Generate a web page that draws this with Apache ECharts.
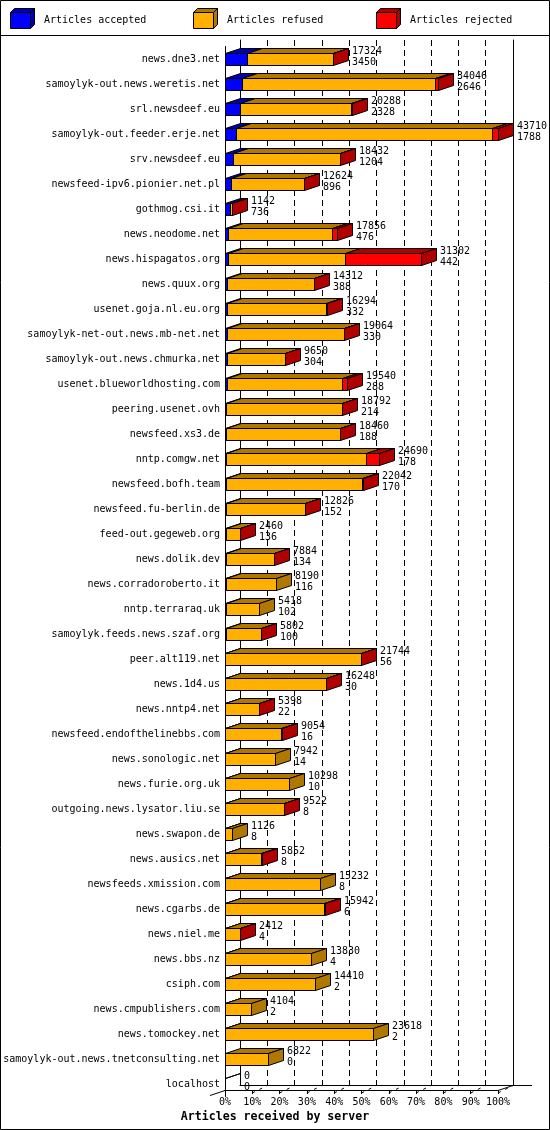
<!DOCTYPE html>
<html>
<head>
<meta charset="utf-8">
<script src="https://cdn.jsdelivr.net/npm/echarts@6/dist/echarts.min.js"></script>
<style>
  html, body { margin: 0; padding: 0; background: #fff; }
  #chart { width: 550px; height: 1130px; }
</style>
</head>
<body>
<div id="chart"></div>
<script>
// servers, top to bottom
const hosts = [
  'news.dne3.net', 'samoylyk-out.news.weretis.net', 'srl.newsdeef.eu', 'samoylyk-out.feeder.erje.net',
  'srv.newsdeef.eu', 'newsfeed-ipv6.pionier.net.pl', 'gothmog.csi.it', 'news.neodome.net',
  'news.hispagatos.org', 'news.quux.org', 'usenet.goja.nl.eu.org', 'samoylyk-net-out.news.mb-net.net',
  'samoylyk-out.news.chmurka.net', 'usenet.blueworldhosting.com', 'peering.usenet.ovh', 'newsfeed.xs3.de',
  'nntp.comgw.net', 'newsfeed.bofh.team', 'newsfeed.fu-berlin.de', 'feed-out.gegeweb.org',
  'news.dolik.dev', 'news.corradoroberto.it', 'nntp.terraraq.uk', 'samoylyk.feeds.news.szaf.org',
  'peer.alt119.net', 'news.1d4.us', 'news.nntp4.net', 'newsfeed.endofthelinebbs.com',
  'news.sonologic.net', 'news.furie.org.uk', 'outgoing.news.lysator.liu.se', 'news.swapon.de',
  'news.ausics.net', 'newsfeeds.xmission.com', 'news.cgarbs.de', 'news.niel.me',
  'news.bbs.nz', 'csiph.com', 'news.cmpublishers.com', 'news.tomockey.net',
  'samoylyk-out.news.tnetconsulting.net', 'localhost'
]

// total articles (upper label)
const totals = [
  17324, 34046, 20288, 43710, 18432, 12624, 1142, 17856, 31302, 14312, 16294, 19064,
  9650, 19540, 18792, 18460, 24690, 22042, 12826, 2460, 7884, 8190, 5418, 5802,
  21744, 16248, 5398, 9054, 7942, 10298, 9522, 1126, 5852, 15232, 15942, 2412,
  13830, 14410, 4104, 23618, 6822, 0
]

// accepted (lower label)
const accepted = [
  3450, 2646, 2328, 1788, 1204, 896, 736, 476, 442, 388, 332, 330,
  304, 288, 214, 188, 178, 170, 152, 136, 134, 116, 102, 100,
  56, 30, 22, 16, 14, 10, 8, 8, 8, 8, 6, 4,
  4, 2, 2, 2, 0, 0
]

// refused
const refused = [
  13814, 30950, 17880, 40972, 17168, 11678, 306, 16600, 18780, 13874, 15902, 18684,
  9306, 18522, 18538, 18232, 22382, 21832, 12644, 2294, 7720, 8074, 5316, 5682,
  21658, 16198, 5356, 9018, 7928, 10288, 9494, 1118, 5824, 15224, 15916, 2388,
  13826, 14408, 4102, 23616, 6822, 0
]

// rejected
const rejected = [
  60, 450, 80, 950, 60, 50, 100, 780, 12080, 50, 60, 50,
  40, 730, 40, 40, 2130, 40, 30, 30, 30, 0, 0, 20,
  30, 20, 20, 20, 0, 0, 20, 0, 20, 0, 20, 20,
  0, 0, 0, 0, 0, 0
]

const percentTicks = [0, 10, 20, 30, 40, 50, 60, 70, 80, 90, 100]

const legendNames = ['Articles accepted', 'Articles refused', 'Articles rejected']
const faceColors = ['#0000ff', '#ffb000', '#ff0000']
const darkColors = ['#0000b0', '#b07800', '#b00000']

const FONT = '"DejaVu Sans Mono", "Liberation Mono", monospace'
const DX = 15, DY = 5, BAR_H = 12
const FRONT_Y = 1090, BACK_Y = 1085

const maxTotal = Math.max(...totals)

// segment data for each of the 3 parts: [row, from, to, drawFront, drawSide]
const parts = [accepted, refused, rejected]
const segData = parts.map(() => [])
hosts.forEach((h, i) => {
  let lastPart = -1
  parts.forEach((arr, k) => { if (arr[i] > 0) lastPart = k })
  let from = 0
  parts.forEach((arr, k) => {
    const to = from + arr[i]
    const front = arr[i] > 0 || (lastPart === -1 && k === 0) ? 1 : 0
    segData[k].push([i, from, to, front, k === lastPart ? 1 : 0])
    from = to
  })
})

const labelData = hosts.map((h, i) => [i, totals[i], accepted[i]])

function px(v) {
  return Math.round(v) + 0.5
}

function segmentRenderer(k) {
  return function (params, api) {
    if (!api.value(3)) return
    const row = api.value(0)
    const a = api.coord([api.value(1), row])
    const b = api.coord([api.value(2), row])
    const x0 = px(a[0]), x1 = px(b[0])
    const yt = px(a[1] - BAR_H / 2), yb = yt + BAR_H
    const line = { stroke: '#000', lineWidth: 1 }
    const children = [
      { type: 'polygon', shape: { points: [[x0, yt], [x1, yt], [x1, yb], [x0, yb]] },
        style: Object.assign({ fill: faceColors[k] }, line) },
      { type: 'polygon', shape: { points: [[x0, yt], [x1, yt], [x1 + DX, yt - DY], [x0 + DX, yt - DY]] },
        style: Object.assign({ fill: darkColors[k] }, line) }
    ]
    if (api.value(4)) {
      children.push({ type: 'polygon', shape: { points: [[x1, yt], [x1 + DX, yt - DY], [x1 + DX, yb - DY], [x1, yb]] },
        style: Object.assign({ fill: darkColors[k] }, line) })
    }
    return { type: 'group', children: children }
  }
}

function labelRenderer(params, api) {
  const p = api.coord([api.value(1), api.value(0)])
  return {
    type: 'text',
    style: {
      x: Math.round(p[0]) + DX + 4,
      y: p[1] - 2,
      text: api.value(1) + '\n' + api.value(2),
      fill: '#000',
      font: '10px ' + FONT,
      align: 'left',
      verticalAlign: 'middle',
      lineHeight: 11
    }
  }
}

// legend boxes drawn as small 3D cubes
const legendX = [10, 193, 376]
const legendGraphics = []
legendNames.forEach((name, k) => {
  const x = legendX[k] + 0.5, y = 12.5, w = 20, h = 16, d = 4
  const line = { stroke: '#000', lineWidth: 1 }
  legendGraphics.push(
    { type: 'polygon', shape: { points: [[x, y], [x + w, y], [x + w, y + h], [x, y + h]] },
      style: Object.assign({ fill: faceColors[k] }, line) },
    { type: 'polygon', shape: { points: [[x, y], [x + w, y], [x + w + d, y - d], [x + d, y - d]] },
      style: Object.assign({ fill: darkColors[k] }, line) },
    { type: 'polygon', shape: { points: [[x + w, y], [x + w + d, y - d], [x + w + d, y + h - d], [x + w, y + h]] },
      style: Object.assign({ fill: darkColors[k] }, line) },
    { type: 'text', style: { x: legendX[k] + 34, y: 20, text: name, fill: '#000',
      font: '10px ' + FONT, align: 'left', verticalAlign: 'middle' } }
  )
})

const baseGraphics = [
  { type: 'rect', shape: { x: 0.5, y: 0.5, width: 549, height: 1129 },
    style: { fill: 'none', stroke: '#000', lineWidth: 1 }, z: 100 },
  { type: 'line', shape: { x1: 0, y1: 35.5, x2: 550, y2: 35.5 },
    style: { stroke: '#000', lineWidth: 1 }, z: 100 },
  ...legendGraphics
]

const chart = echarts.init(document.getElementById('chart'), null, { renderer: 'canvas' })

chart.setOption({
  animation: false,
  backgroundColor: '#fff',
  title: {
    text: 'Articles received by server',
    left: 'center',
    top: 1111,
    padding: 0,
    textStyle: { fontFamily: FONT, fontWeight: 'bold', fontSize: 11.6, color: '#000' }
  },
  grid: [
    // front plane, categories
    { left: 225, right: 52, top: 46.5, bottom: 33.5 },
    // back plane, grid lines
    { left: 240, right: 37, top: 40, bottom: 45 }
  ],
  xAxis: [
    {
      gridIndex: 0, type: 'value', min: 0, max: maxTotal, interval: maxTotal / 10,
      offset: -6.5,
      axisLine: { show: true, lineStyle: { color: '#000', width: 1 } },
      axisTick: { show: true, length: 4, lineStyle: { color: '#000' } },
      axisLabel: {
        show: true, margin: 7, color: '#000', fontFamily: FONT, fontSize: 10,
        formatter: (v) => {
          const pct = Math.round(v / maxTotal * 100)
          return percentTicks.includes(pct) ? pct + '%' : ''
        }
      },
      splitLine: { show: false }
    },
    {
      gridIndex: 1, type: 'value', min: 0, max: maxTotal, interval: maxTotal / 10,
      axisLine: { show: true, lineStyle: { color: '#000', width: 1 } },
      axisTick: { show: true, inside: true, length: 4, lineStyle: { color: '#000' } },
      axisLabel: { show: false },
      splitLine: { show: true, lineStyle: { color: '#000', width: 1, type: [6, 4] } }
    }
  ],
  yAxis: [
    {
      gridIndex: 0, type: 'category', inverse: true, data: hosts,
      axisLine: { show: true, lineStyle: { color: '#000' } },
      axisTick: { show: false },
      axisLabel: { color: '#000', fontFamily: FONT, fontSize: 10, margin: 5, interval: 0 }
    },
    {
      gridIndex: 1, type: 'value', min: 0, max: 1, position: 'left',
      axisLine: { show: true, lineStyle: { color: '#000' } },
      axisTick: { show: false }, axisLabel: { show: false }, splitLine: { show: false }
    },
    {
      gridIndex: 1, type: 'value', min: 0, max: 1, position: 'right',
      axisLine: { show: true, lineStyle: { color: '#000' } },
      axisTick: { show: false }, axisLabel: { show: false }, splitLine: { show: false }
    }
  ],
  series: [
    ...legendNames.map((name, k) => ({
      name: name,
      type: 'custom',
      xAxisIndex: 0,
      yAxisIndex: 0,
      clip: false,
      encode: { x: [1, 2], y: 0 },
      renderItem: segmentRenderer(k),
      data: segData[k]
    })),
    {
      name: 'labels',
      type: 'custom',
      xAxisIndex: 0,
      yAxisIndex: 0,
      clip: false,
      encode: { x: 1, y: 0 },
      renderItem: labelRenderer,
      data: labelData
    }
  ],
  graphic: baseGraphics
})

// depth lines joining the front axis to the back plane
const depth = []
const x0 = chart.convertToPixel({ xAxisIndex: 0 }, 0)
const x100 = chart.convertToPixel({ xAxisIndex: 0 }, maxTotal)
const solid = { stroke: '#000', lineWidth: 1 }
depth.push(
  { type: 'line', z: 50, shape: { x1: x0 - 15, y1: FRONT_Y + 5.5, x2: x0, y2: FRONT_Y + 0.5 }, style: solid },
  { type: 'line', z: 50, shape: { x1: x100, y1: FRONT_Y + 0.5, x2: x100 + DX, y2: BACK_Y + 0.5 }, style: solid },
  { type: 'line', z: 50, shape: { x1: x100 + DX, y1: BACK_Y + 0.5, x2: x100 + DX + 19, y2: BACK_Y + 0.5 }, style: solid }
)
percentTicks.slice(1).forEach((p) => {
  const xf = chart.convertToPixel({ xAxisIndex: 0 }, maxTotal * p / 100)
  depth.push({ type: 'line', z: 50, shape: { x1: xf, y1: FRONT_Y + 3, x2: xf + DX, y2: BACK_Y + 0.5 },
    style: { stroke: '#000', lineWidth: 1, lineDash: [3, 5] } })
})
chart.setOption({ graphic: baseGraphics.concat(depth) })
</script>
</body>
</html>
